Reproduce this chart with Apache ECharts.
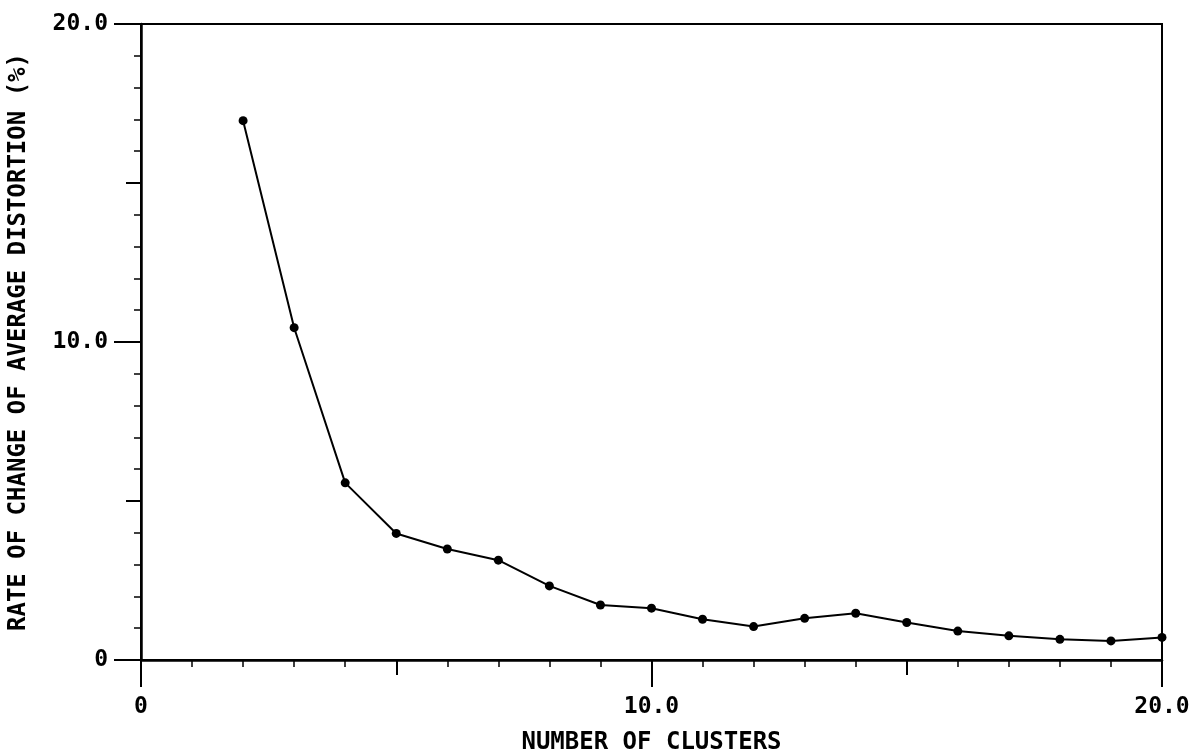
<!DOCTYPE html>
<html>
<head>
<meta charset="utf-8">
<script src="https://cdn.jsdelivr.net/npm/echarts@6/dist/echarts.min.js"></script>
<style>
  html, body { margin: 0; padding: 0; background: #fff; }
  #chart { width: 1190px; height: 754px; }
</style>
</head>
<body>
<div id="chart"></div>
<script>
// number of clusters and rate of change (%)
const clusters = [2, 3, 4, 5, 6, 7, 8, 9, 10, 11, 12, 13, 14, 15, 16, 17, 18, 19, 20]
const rateOfChange = [16.96, 10.45, 5.57, 3.98, 3.49, 3.14, 2.33, 1.73, 1.63, 1.28, 1.05, 1.31, 1.47, 1.18, 0.91, 0.76, 0.65, 0.60, 0.71]
const xTicks = [0, 10, 20]
const yTicks = [0, 10, 20]

const font = 'DejaVu Sans Mono'
const ink = '#000'

const fmt = v => (v === 0 ? '0' : v.toFixed(1))

const chart = echarts.init(document.getElementById('chart'))

const option = {
  animation: false,
  backgroundColor: '#fff',
  grid: {
    left: 141,
    right: 28,
    top: 24,
    bottom: 94,
    containLabel: false,
    outerBoundsMode: 'none',
    show: true,
    borderColor: ink,
    borderWidth: 2
  },
  xAxis: [
    {
      type: 'value',
      min: xTicks[0],
      max: xTicks[xTicks.length - 1],
      interval: 10,
      name: 'NUMBER OF CLUSTERS',
      nameLocation: 'middle',
      nameGap: 71,
      nameTextStyle: { fontFamily: font, fontWeight: 'bold', fontSize: 24, color: ink },
      axisLine: { show: true, lineStyle: { color: ink, width: 2.5 } },
      axisTick: { show: true, length: 27, lineStyle: { color: ink, width: 2 } },
      minorTick: { show: true, splitNumber: 10, length: 7, lineStyle: { color: ink, width: 1.5 } },
      splitLine: { show: false },
      axisLabel: {
        margin: 36,
        fontFamily: font,
        fontWeight: 'bold',
        fontSize: 23,
        color: ink,
        formatter: fmt
      }
    },
    {
      // medium ticks at every 5
      type: 'value',
      position: 'bottom',
      min: 0,
      max: 20,
      interval: 5,
      axisLine: { show: false },
      axisTick: { show: true, length: 15, lineStyle: { color: ink, width: 2 } },
      axisLabel: { show: false },
      splitLine: { show: false }
    }
  ],
  yAxis: [
    {
      type: 'value',
      min: yTicks[0],
      max: yTicks[yTicks.length - 1],
      interval: 10,
      name: 'RATE OF CHANGE OF AVERAGE DISTORTION (%)',
      nameLocation: 'middle',
      nameGap: 110,
      nameTextStyle: { fontFamily: font, fontWeight: 'bold', fontSize: 24, color: ink },
      axisLine: { show: true, lineStyle: { color: ink, width: 2.5 } },
      axisTick: { show: true, length: 27, lineStyle: { color: ink, width: 2 } },
      minorTick: { show: true, splitNumber: 10, length: 7, lineStyle: { color: ink, width: 1.5 } },
      splitLine: { show: false },
      axisLabel: {
        margin: 33,
        fontFamily: font,
        fontWeight: 'bold',
        fontSize: 23,
        color: ink,
        formatter: fmt
      }
    },
    {
      type: 'value',
      position: 'left',
      min: 0,
      max: 20,
      interval: 5,
      axisLine: { show: false },
      axisTick: { show: true, length: 15, lineStyle: { color: ink, width: 2 } },
      axisLabel: { show: false },
      splitLine: { show: false }
    }
  ],
  series: [
    {
      type: 'line',
      xAxisIndex: 0,
      yAxisIndex: 0,
      data: clusters.map((c, i) => [c, rateOfChange[i]]),
      symbol: 'circle',
      symbolSize: 9,
      lineStyle: { color: ink, width: 2 },
      itemStyle: { color: ink },
      clip: false
    }
  ]
}

chart.setOption(option)
</script>
</body>
</html>
